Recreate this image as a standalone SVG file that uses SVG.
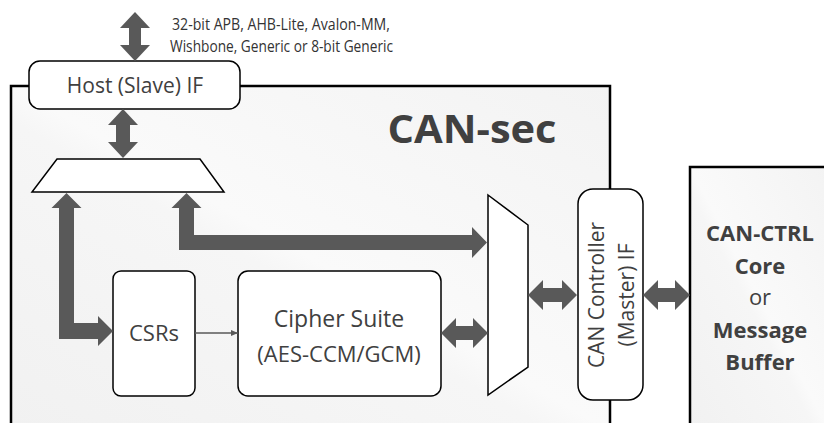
<svg xmlns="http://www.w3.org/2000/svg" width="824" height="423" viewBox="0 0 824 423">
<defs>
<linearGradient id="bg" x1="0" y1="1" x2="1" y2="0">
<stop offset="0" stop-color="#f1f1f1"/>
<stop offset="0.45" stop-color="#f6f6f6"/>
<stop offset="0.5" stop-color="#fafafa"/>
<stop offset="1" stop-color="#f3f3f3"/>
</linearGradient>
<marker id="ah" markerWidth="8" markerHeight="8" refX="7" refY="4" orient="auto" markerUnits="userSpaceOnUse">
<path d="M0,1 L7,4 L0,7 Z" fill="#595959"/>
</marker>
<style>
.box{fill:#fff;stroke:#000;stroke-width:1.5}
.arr{fill:#595959;stroke:none}
.lbl{font-family:"Open Sans","Liberation Sans",sans-serif;fill:#404040;text-anchor:middle}
.bold{font-weight:700}
.small{font-family:"Open Sans","Liberation Sans",sans-serif;font-size:17px;fill:#333}
</style>
</defs>

<g id="can-sec">
<rect x="11" y="86" width="599" height="345" fill="url(#bg)"/>
<path d="M11,430 V86 H610 V430" fill="none" stroke="#000" stroke-width="2.5"/>
<text class="lbl bold" x="472" y="143" font-size="40" textLength="169" lengthAdjust="spacingAndGlyphs">CAN-sec</text>
</g>

<g id="can-ctrl">
<rect x="690" y="167" width="140" height="265" fill="url(#bg)"/>
<path d="M690,430 V167 H830" fill="none" stroke="#000" stroke-width="2.5"/>
<text class="lbl bold" x="760" y="241" font-size="22">CAN-CTRL</text>
<text class="lbl bold" x="760" y="274" font-size="22">Core</text>
<text class="lbl" x="760" y="305" font-size="22">or</text>
<text class="lbl bold" x="760" y="338" font-size="22">Message</text>
<text class="lbl bold" x="760" y="370" font-size="22">Buffer</text>
</g>

<g id="bus-label">
<text class="small" x="172" y="30" textLength="218" lengthAdjust="spacingAndGlyphs">32-bit APB, AHB-Lite,  Avalon-MM,</text>
<text class="small" x="170" y="52" textLength="223" lengthAdjust="spacingAndGlyphs">Wishbone, Generic or 8-bit Generic</text>
</g>

<g id="host-if">
<rect class="box" x="29" y="61" width="211" height="48" rx="11"/>
<text class="lbl" x="135" y="93" font-size="21">Host (Slave) IF</text>
</g>

<g id="mux-top">
<polygon points="57,159 200,159 224,192 32,192" fill="#fff" stroke="#000" stroke-width="1.5"/>
</g>

<g id="csrs">
<rect class="box" x="113" y="271" width="82" height="125" rx="8"/>
<text class="lbl" x="154" y="341" font-size="22">CSRs</text>
</g>

<g id="cipher">
<rect class="box" x="238" y="271" width="203" height="125" rx="10"/>
<text class="lbl" x="339" y="327" font-size="23">Cipher Suite</text>
<text class="lbl" x="339" y="362" font-size="22">(AES-CCM/GCM)</text>
</g>

<g id="mux-right">
<polygon points="488,195 528,225 528,367 488,395" fill="#fff" stroke="#000" stroke-width="1.5"/>
</g>

<g id="can-if">
<rect class="box" x="578" y="189" width="65" height="211" rx="15"/>
<text class="lbl" transform="translate(604,295) rotate(-90)" font-size="21">CAN Controller</text>
<text class="lbl" transform="translate(634,295) rotate(-90)" font-size="21">(Master) IF</text>
</g>

<g id="connectors">
<polygon class="arr" points="135,12 150,28 141,28 141,45 150,45 135,61 120,45 129,45 129,28 120,28"/>
<polygon class="arr" points="123,109 138,125 130,125 130,142 138,142 123,158 108,142 116,142 116,125 108,125"/>
<polygon class="arr" points="66.5,193 81.5,208 74,208 74,323 98,323 98,316 113,331 98,346 98,339 59,339 59,208 51.5,208"/>
<polygon class="arr" points="186.5,193 201.5,208 194,208 194,235 472,235 472,227 487,242.5 472,258 472,250 179,250 179,208 171.5,208"/>
<polygon class="arr" points="441,333 456,318 456,326 473,326 473,318 488,333 473,348 473,340 456,340 456,348"/>
<polygon class="arr" points="528,295 543,280 543,288 562,288 562,280 577,295 562,310 562,302 543,302 543,310"/>
<polygon class="arr" points="643,295 658,280 658,288 675,288 675,280 690,295 675,310 675,302 658,302 658,310"/>
<line x1="195" y1="333" x2="238" y2="333" stroke="#595959" stroke-width="1.5" marker-end="url(#ah)"/>
</g>
</svg>
